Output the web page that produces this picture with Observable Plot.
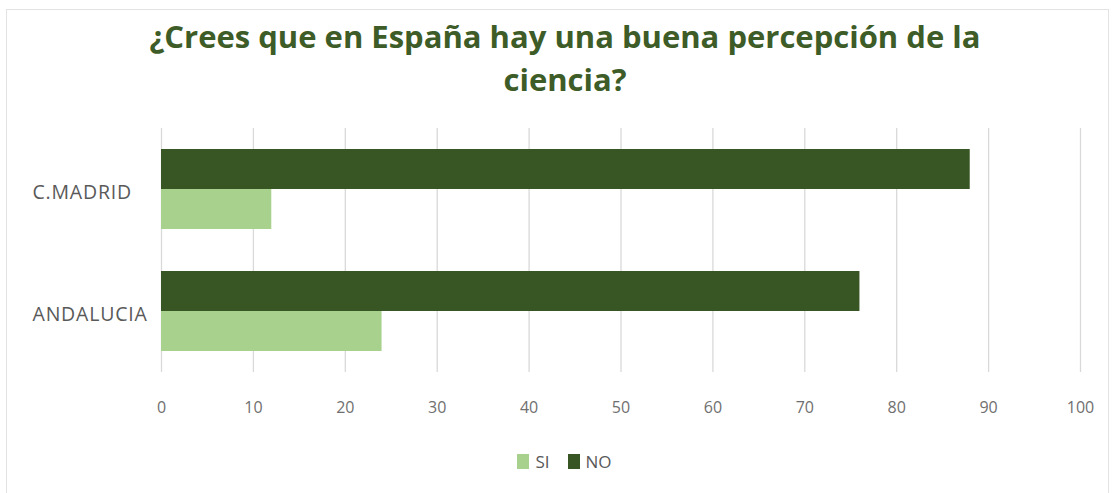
<!DOCTYPE html>
<html>
<head>
<meta charset="utf-8">
<script src="https://cdn.jsdelivr.net/npm/d3@7"></script>
<script src="https://cdn.jsdelivr.net/npm/@observablehq/plot@0.6"></script>
<style>
  html, body { margin: 0; padding: 0; background: #fff; }
  #wrap { position: relative; width: 1115px; height: 493px; overflow: hidden; font-family: "Open Sans", sans-serif; }
  #frame { position: absolute; left: 6px; top: 9px; width: 1103px; height: 520px; border: 1px solid #e2e2e2; box-sizing: border-box; }
  #title { position: absolute; left: 0; top: 15px; width: 1130px; text-align: center; font-size: 31px; line-height: 43px; font-weight: 700; color: #3d5c27; }
  #chart { position: absolute; left: 0; top: 110px; }
  #legend { position: absolute; top: 450px; left: 0; width: 1115px; display: flex; justify-content: center; font-size: 17px; color: #595959; padding-left: 14px; box-sizing: border-box; }
  .item { display: flex; align-items: center; margin: 0 9px; }
  .sw { width: 12px; height: 15px; margin-right: 6px; }
  .fylab text { letter-spacing: 0.8px; }
</style>
</head>
<body>
<div id="wrap">
  <div id="frame"></div>
  <div id="title">¿Crees que en España hay una buena percepción de la<br>ciencia?</div>
  <div id="chart"></div>
  <div id="legend"></div>
</div>
<script>
const regions = ["C.MADRID", "ANDALUCIA"];
const series = ["SI", "NO"];
const siValues = [12, 24];
const noValues = [88, 76];
const xTicks = [0, 10, 20, 30, 40, 50, 60, 70, 80, 90, 100];
const colors = ["#A9D18E", "#375623"];

const data = regions.flatMap((r, i) => [
  {region: r, serie: "NO", value: noValues[i]},
  {region: r, serie: "SI", value: siValues[i]}
]);

const chart = Plot.plot({
  width: 1115,
  height: 320,
  marginLeft: 161,
  marginRight: 35,
  marginTop: 18,
  marginBottom: 58,
  style: {fontFamily: "Open Sans, sans-serif", fontSize: "16px", color: "#595959", background: "transparent"},
  x: {domain: [0, 100]},
  fy: {domain: regions, padding: 0, label: null},
  y: {domain: ["NO", "SI"], paddingInner: 0, paddingOuter: 0.488, axis: null},
  color: {domain: series, range: colors},
  marks: [
    Plot.gridX(xTicks, {stroke: "#d9d9d9", strokeOpacity: 1, strokeWidth: 1.3}),
    Plot.barX(data, {x: "value", y: "serie", fy: "region", fill: "serie"}),
    Plot.axisX({ticks: xTicks, tickSize: 0, tickPadding: 29, label: null, fontSize: 16, fill: "#6f6f6f"}),
    Plot.axisFy({anchor: "left", tickSize: 0, tickPadding: 0, dx: -129, dy: 3, textAnchor: "start", label: null, fontSize: 19.5, fill: "#595959", className: "fylab"})
  ]
});
document.getElementById("chart").appendChild(chart);

const legend = document.getElementById("legend");
series.forEach((s, i) => {
  const it = document.createElement("div");
  it.className = "item";
  const sw = document.createElement("div");
  sw.className = "sw";
  sw.style.background = colors[i];
  const lb = document.createElement("span");
  lb.textContent = s;
  it.appendChild(sw);
  it.appendChild(lb);
  legend.appendChild(it);
});
</script>
</body>
</html>
